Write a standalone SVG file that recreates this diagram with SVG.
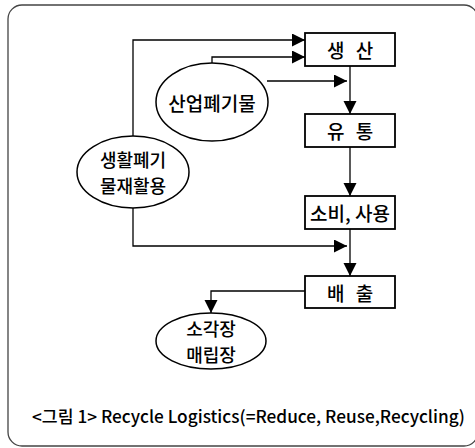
<svg xmlns="http://www.w3.org/2000/svg" width="475" height="448" viewBox="0 0 475 448">
<style>
.box{fill:#fff;stroke:#000;stroke-width:1.8}
.ell{fill:#fff;stroke:#000;stroke-width:1.5}
.t{font-family:"Noto Sans CJK KR","Noto Sans",sans-serif;font-size:19px;font-weight:500;fill:#000;text-anchor:middle;dominant-baseline:central}
.ws{word-spacing:7px}
.t2{font-size:18px}
.ln{fill:none;stroke:#000;stroke-width:1.3}
.cap{font-family:"Noto Sans CJK KR","Noto Sans",sans-serif;font-size:17px;font-weight:500;fill:#000}
</style>
<defs>
<marker id="ah" markerUnits="userSpaceOnUse" markerWidth="14" markerHeight="14" refX="13" refY="6.5" orient="auto" viewBox="0 0 14 14">
<path d="M0,0 L13,6.5 L0,13 z" fill="#000"/>
</marker>
</defs>
<rect x="8" y="5" width="470" height="441" rx="14" fill="#fff" stroke="#444" stroke-width="1.3"/>
<g id="connectors">
<path class="ln" d="M133,137 V40 H305" marker-end="url(#ah)"/>
<path class="ln" d="M212,63 V57 H305" marker-end="url(#ah)"/>
<path class="ln" d="M267,81 H347" marker-end="url(#ah)"/>
<path class="ln" d="M350,66 V114" marker-end="url(#ah)"/>
<path class="ln" d="M350,147 V196" marker-end="url(#ah)"/>
<path class="ln" d="M350,229 V276" marker-end="url(#ah)"/>
<path class="ln" d="M133,208 V246 H347" marker-end="url(#ah)"/>
<path class="ln" d="M305,291 H211 V313" marker-end="url(#ah)"/>
</g>
<g id="n-production">
<rect class="box" x="305" y="33" width="90" height="33"/>
<text class="t ws" x="350" y="49.5">생 산</text>
</g>
<g id="n-distribution">
<rect class="box" x="305" y="114" width="90" height="33"/>
<text class="t ws" x="350" y="130.5">유 통</text>
</g>
<g id="n-consumption">
<rect class="box" x="305" y="196" width="90" height="33"/>
<text class="t" x="350" y="212.5">소비, 사용</text>
</g>
<g id="n-disposal">
<rect class="box" x="305" y="276" width="90" height="32"/>
<text class="t ws" x="350" y="292">배 출</text>
</g>
<g id="n-industrial">
<ellipse class="ell" cx="212" cy="102" rx="56" ry="39"/>
<text class="t" x="212" y="102">산업폐기물</text>
</g>
<g id="n-household">
<ellipse class="ell" cx="133" cy="172" rx="56" ry="36"/>
<text class="t t2" x="133" y="159">생활폐기</text>
<text class="t t2" x="133" y="185">물재활용</text>
</g>
<g id="n-landfill">
<ellipse class="ell" cx="211" cy="341" rx="55" ry="28"/>
<text class="t t2" x="211" y="328">소각장</text>
<text class="t t2" x="211" y="354">매립장</text>
</g>
<text class="cap" x="32" y="423" textLength="433" lengthAdjust="spacingAndGlyphs">&lt;그림 1&gt; Recycle Logistics(=Reduce, Reuse,Recycling)</text>
</svg>
